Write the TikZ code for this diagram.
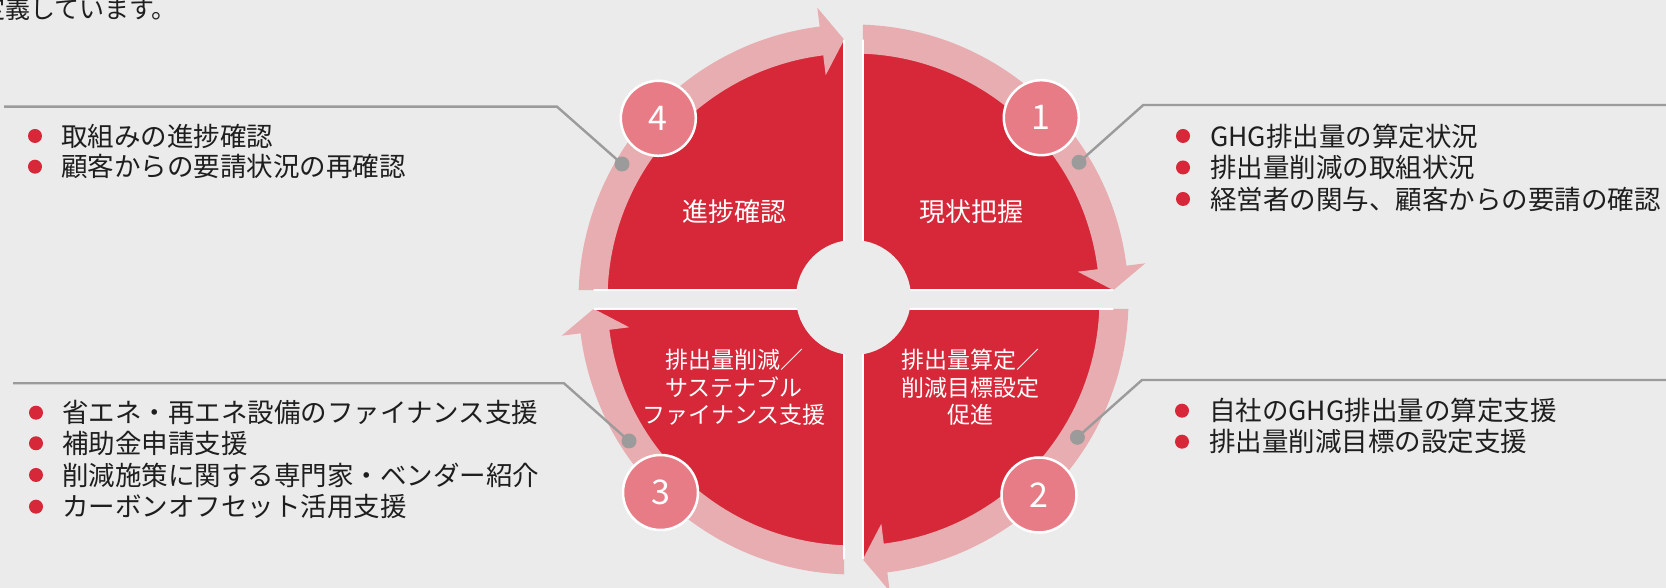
\documentclass[tikz,border=0pt]{standalone}
\usepackage{fontspec}
\setmainfont{Noto Sans CJK JP}
\usetikzlibrary{calc}
\definecolor{bgc}{HTML}{EBEBEB}
\definecolor{redc}{HTML}{D62839}
\definecolor{pinkc}{HTML}{E8ADB0}
\definecolor{numc}{HTML}{E87C86}
\definecolor{grayc}{HTML}{9B9B9B}
\definecolor{txtc}{HTML}{1E1E1E}
\begin{document}
\begin{tikzpicture}[x=1pt,y=1pt,
  bullettext/.style={anchor=west, inner sep=0pt, text=txtc, font=\fontsize{26.5pt}{31pt}\selectfont},
  quadlabel/.style={text=white, align=center, inner sep=0pt, font=\fontsize{26pt}{30pt}\selectfont},
  quadlabelsmall/.style={text=white, align=center, inner sep=0pt, font=\fontsize{23pt}{27.5pt}\selectfont},
  numcircle/.style={circle, fill=numc, draw=white, line width=2.5pt, minimum size=75pt, inner sep=0pt, text=white, font=\fontsize{34pt}{34pt}\selectfont},
  leader/.style={draw=grayc, line width=2.4pt},
  graydot/.style={circle, fill=grayc, minimum size=15pt, inner sep=0pt},
  bulletdot/.style={circle, fill=redc, minimum size=14pt, inner sep=0pt},
  sector/.style={fill=redc},
  band/.style={fill=pinkc},
  gapline/.style={draw=white, line width=2pt},
]
\useasboundingbox (0,0) rectangle (1666,588);
\fill[bgc] (0,0) rectangle (1666,588);

% red quadrants
\foreach \k in {0,1,2,3} {
  \begin{scope}[shift={(853.5,288.5)}, rotate=-90*\k]
    \fill[sector] (9.3pt,9.3pt) -- (87.95:260pt) arc[start angle=87.95, end angle=2.05, radius=260pt] -- cycle;
  \end{scope}
}
% pink arrow bands
\foreach \k in {0,1,2,3} {
  \begin{scope}[shift={(853.5,288.5)}, rotate=-90*\k]
    \fill[band] (88.06:275pt) arc[start angle=88.06, end angle=7.07, radius=275pt]
      -- (7.07:294pt) -- (2.05:260pt) -- (7.07:226pt) -- (7.07:246pt)
      arc[start angle=7.07, end angle=87.83, radius=246pt] -- cycle;
  \end{scope}
}
% white edges along the gaps
\foreach \k in {0,1,2,3} {
  \begin{scope}[shift={(853.5,288.5)}, rotate=-90*\k]
    \draw[gapline] (87.95:260pt) -- (9.3pt,9.3pt) -- (2.05:260pt);
  \end{scope}
}
% hub
\node[circle, fill=bgc, minimum size=115pt, inner sep=0pt] (hub) at (853.5,290.5) {};

% leaders
\node[graydot] (d1) at (1079,425.7) {};
\node[graydot] (d4) at (622,424) {};
\node[graydot] (d2) at (1077.4,150.7) {};
\node[graydot] (d3) at (629,147) {};
\coordinate (k1) at (1143.3,483);
\coordinate (e1) at (1666,483);
\coordinate (k4) at (557,481.3);
\coordinate (e4) at (4,481.3);
\coordinate (k2) at (1142,208);
\coordinate (e2) at (1666,208);
\coordinate (k3) at (564,204.7);
\coordinate (e3) at (13,204.7);
\draw[leader] (d1.center) -- (k1) -- (e1);
\draw[leader] (d4.center) -- (k4) -- (e4);
\draw[leader] (d2.center) -- (k2) -- (e2);
\draw[leader] (d3.center) -- (k3) -- (e3);

% number circles
\node[numcircle] (n1) at (1041.3,470.3) {1};
\node[numcircle] (n4) at (658.3,469.7) {4};
\node[numcircle] (n2) at (1039,93) {2};
\node[numcircle] (n3) at (660.5,95.5) {3};

% quadrant labels
\node[quadlabel] (l1) at (971,376.3) {現状把握};
\node[quadlabel] (l4) at (734.6,376.3) {進捗確認};
\node[quadlabelsmall] (l3) at (734,200.5) {排出量削減／\\サステナブル\\ファイナンス支援};
\node[quadlabelsmall] (l2) at (970.5,200.5) {排出量算定／\\削減目標設定\\促進};

% intro text (cut off at the left edge)
\node[anchor=base west, inner sep=0pt, text=txtc, font=\fontsize{25pt}{30pt}\selectfont] (intro) at (-20,569) {定義しています。};

% list 1
\node[bulletdot] (b11) at (1183,452) {};
\node[bullettext] (t11) at (1210,452) {GHG排出量の算定状況};
\node[bulletdot] (b12) at (1183,420.5) {};
\node[bullettext] (t12) at (1210,420.5) {排出量削減の取組状況};
\node[bulletdot] (b13) at (1183,389) {};
\node[bullettext] (t13) at (1210,389) {経営者の関与、顧客からの要請の確認};

% list 4
\node[bulletdot] (b41) at (35,452) {};
\node[bullettext] (t41) at (61,452) {取組みの進捗確認};
\node[bulletdot] (b42) at (35,421.3) {};
\node[bullettext] (t42) at (61,421.3) {顧客からの要請状況の再確認};

% list 2
\node[bulletdot] (b21) at (1182,177.3) {};
\node[bullettext] (t21) at (1209,177.3) {自社のGHG排出量の算定支援};
\node[bulletdot] (b22) at (1182,146.3) {};
\node[bullettext] (t22) at (1209,146.3) {排出量削減目標の設定支援};

% list 3
\node[bulletdot] (b31) at (36,175.3) {};
\node[bullettext] (t31) at (62,175.3) {省エネ・再エネ設備のファイナンス支援};
\node[bulletdot] (b32) at (36,144.7) {};
\node[bullettext] (t32) at (62,144.7) {補助金申請支援};
\node[bulletdot] (b33) at (36,113) {};
\node[bullettext] (t33) at (62,113) {削減施策に関する専門家・ベンダー紹介};
\node[bulletdot] (b34) at (36,81.3) {};
\node[bullettext] (t34) at (62,81.3) {カーボンオフセット活用支援};
\end{tikzpicture}
\end{document}
